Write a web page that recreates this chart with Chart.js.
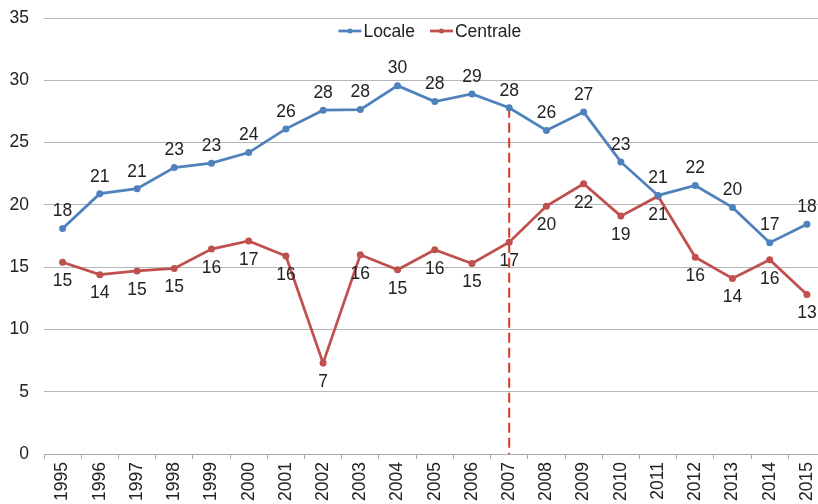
<!DOCTYPE html>
<html><head><meta charset="utf-8">
<script src="https://cdn.jsdelivr.net/npm/chart.js@4.4.1/dist/chart.umd.min.js"></script>
<style>html,body{margin:0;padding:0;overflow:hidden;background:#fff;width:818px;height:504px}canvas{display:block}</style>
</head><body>
<canvas id="c" width="831" height="504"></canvas>
<script>
const years = ['1995','1996','1997','1998','1999','2000','2001','2002','2003','2004','2005','2006','2007','2008','2009','2010','2011','2012','2013','2014','2015'];
const locale = [18.1,20.9,21.3,23.0,23.35,24.2,26.1,27.6,27.65,29.57,28.3,28.9,27.8,25.97,27.45,23.45,20.76,21.56,19.8,16.97,18.45];
const centrale = [15.4,14.4,14.7,14.9,16.45,17.1,15.9,7.3,16.0,14.8,16.4,15.3,17.0,19.9,21.7,19.1,20.7,15.8,14.1,15.6,12.8];
const seriesNames = ['Locale','Centrale'];
const markerYear = '2007';
const yMin = 0, yMax = 35, yStep = 5;

const FONT = '"Liberation Sans", Helvetica, Arial, sans-serif';
const FS = 17.5;
const TXT = '#222222';
const BLUE = '#4F81BD', RED = '#C0504D', MARK = '#D8372A';

const customPlugin = {
  id: 'custom',
  beforeDatasetsDraw(chart) {
    const idx = years.indexOf(markerYear);
    const x = chart.scales.x.getPixelForValue(idx);
    const y0 = chart.getDatasetMeta(0).data[idx].y;
    const ctx = chart.ctx;
    ctx.save();
    ctx.strokeStyle = MARK; ctx.lineWidth = 2; ctx.setLineDash([10, 5]);
    ctx.beginPath(); ctx.moveTo(x, y0); ctx.lineTo(x, chart.chartArea.bottom); ctx.stroke();
    ctx.restore();
  },
  afterDatasetsDraw(chart) {
    const ctx = chart.ctx;
    ctx.save();
    ctx.font = FS + 'px ' + FONT; ctx.fillStyle = TXT;
    ctx.textAlign = 'center'; ctx.textBaseline = 'middle';
    chart.data.datasets.forEach((ds, di) => {
      const meta = chart.getDatasetMeta(di);
      meta.data.forEach((pt, i) => {
        const off = di === 0 ? -17 : 19;
        ctx.fillText(String(Math.round(ds.data[i])), pt.x, pt.y + off);
      });
    });
    ctx.restore();
  },
  afterDraw(chart) {
    const ctx = chart.ctx;
    ctx.save();
    ctx.font = FS + 'px ' + FONT;
    const lineLen = 23, gapText = 2, gapItem = 15;
    const items = chart.data.datasets.map(ds => ({ label: ds.label, color: ds.borderColor, w: ctx.measureText(ds.label).width }));
    let total = 0;
    items.forEach((it, i) => { total += lineLen + gapText + it.w + (i ? gapItem : 0); });
    const ca = chart.chartArea;
    let x = (ca.left + ca.right) / 2 - 5 - total / 2;
    const y = 31;
    items.forEach((it, i) => {
      if (i) x += gapItem;
      ctx.strokeStyle = it.color; ctx.lineWidth = 2.75;
      ctx.beginPath(); ctx.moveTo(x, y); ctx.lineTo(x + lineLen, y); ctx.stroke();
      ctx.fillStyle = it.color;
      ctx.beginPath(); ctx.arc(x + lineLen / 2, y, 2.5, 0, Math.PI * 2); ctx.fill();
      x += lineLen + gapText;
      ctx.fillStyle = TXT; ctx.textAlign = 'left'; ctx.textBaseline = 'middle';
      ctx.fillText(it.label, x, y + 1);
      x += it.w;
    });
    ctx.restore();
  }
};

new Chart(document.getElementById('c'), {
  type: 'line',
  data: {
    labels: years,
    datasets: [
      { label: seriesNames[0], data: locale, borderColor: BLUE, backgroundColor: BLUE, borderWidth: 2.75, pointRadius: 3.5, pointBackgroundColor: BLUE, pointBorderWidth: 0, tension: 0, clip: false },
      { label: seriesNames[1], data: centrale, borderColor: RED, backgroundColor: RED, borderWidth: 2.75, pointRadius: 3.5, pointBackgroundColor: RED, pointBorderWidth: 0, tension: 0, clip: false }
    ]
  },
  options: {
    responsive: false,
    animation: false,
    devicePixelRatio: 1,
    layout: { padding: { top: 18, left: 10, right: 0, bottom: 0 } },
    plugins: { legend: { display: false }, tooltip: { enabled: false } },
    scales: {
      x: {
        offset: true,
        grid: { display: true, drawOnChartArea: false, drawTicks: true, tickLength: 5, color: '#a9a9a9', offset: true },
        border: { display: true, color: '#a9a9a9', width: 1 },
        ticks: { color: TXT, font: { family: FONT, size: FS }, minRotation: 90, maxRotation: 90, padding: 3, autoSkip: false }
      },
      y: {
        min: yMin, max: yMax,
        grid: { color: '#b6b6b6', lineWidth: 1, drawTicks: false },
        border: { display: false },
        ticks: { stepSize: yStep, color: TXT, font: { family: FONT, size: FS }, padding: 15 },
        afterFit(scale) { scale.width = 34; scale.paddingTop = 0; scale.paddingBottom = 0; }
      }
    }
  },
  plugins: [customPlugin]
});
</script>
</body></html>
